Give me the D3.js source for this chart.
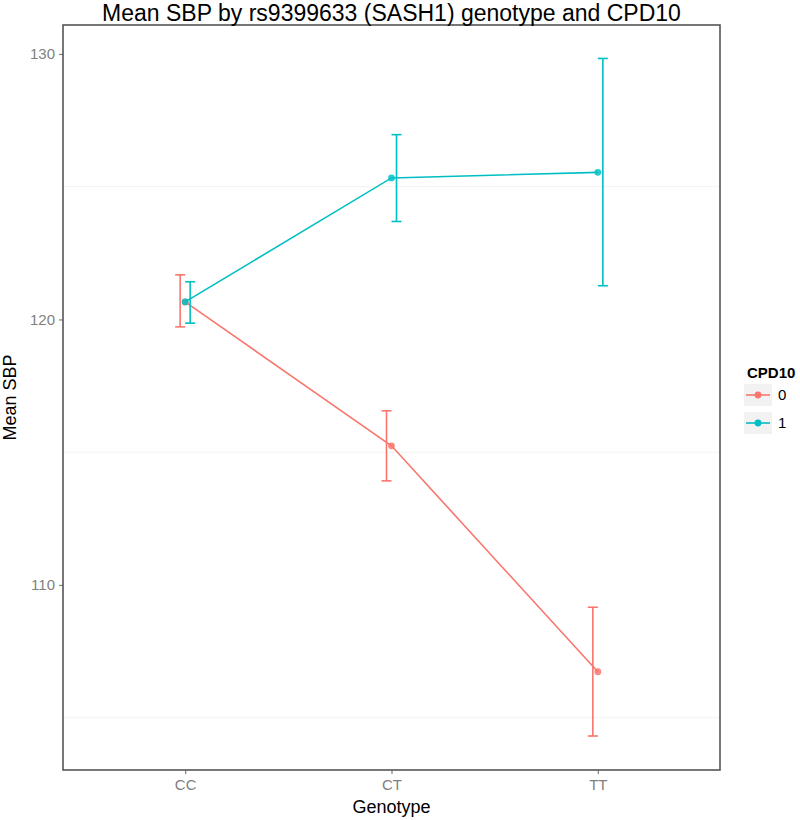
<!DOCTYPE html>
<html>
<head>
<meta charset="utf-8">
<script src="https://cdn.jsdelivr.net/npm/d3@7"></script>
<style>
  body { margin: 0; background: #fff; }
  text { font-family: "Liberation Sans", Arial, sans-serif; }
</style>
</head>
<body>
<div id="chart"></div>
<script>
// data
const genotypes = ["CC", "CT", "TT"];
const groups = ["0", "1"];
const colors = ["#F8766D", "#00BFC4"];
const meanSbp0 = [120.66, 115.24, 106.73];
const lower0 = [119.72, 113.92, 104.31];
const upper0 = [121.68, 116.56, 109.16];
const meanSbp1 = [120.66, 125.33, 125.54];
const lower1 = [119.86, 123.69, 121.27];
const upper1 = [121.42, 126.96, 129.83];
const yTicks = [110, 120, 130];
const yMinor = [105, 115, 125];

const series = [
  { key: groups[0], color: colors[0], mean: meanSbp0, lo: lower0, hi: upper0, dodge: -1 },
  { key: groups[1], color: colors[1], mean: meanSbp1, lo: lower1, hi: upper1, dodge: 1 }
];

const width = 800, height = 820;
const margin = { top: 25, right: 80, bottom: 50, left: 63 };
const plotW = width - margin.left - margin.right;
const plotH = height - margin.top - margin.bottom;

const svg = d3.select("#chart").append("svg")
  .attr("width", width)
  .attr("height", height);

const g = svg.append("g")
  .attr("transform", `translate(${margin.left}, ${margin.top})`);

// x: category index with ggplot style expansion
const xScale = d3.scaleLinear()
  .domain([1 - 0.592, 3 + 0.592])
  .range([0, plotW]);
const x = name => xScale(genotypes.indexOf(name) + 1);

const yScale = d3.scaleLinear()
  .domain([103.03, 131.09])
  .range([plotH, 0]);

// minor grid lines (majors are white in the original)
g.selectAll(".minor")
  .data(yMinor)
  .join("line")
  .attr("x1", 0).attr("x2", plotW)
  .attr("y1", d => yScale(d)).attr("y2", d => yScale(d))
  .attr("stroke", "#f2f2f2")
  .attr("stroke-width", 1);

const dodgePx = 5;
const capHalf = 5;

series.forEach(s => {
  const pts = genotypes.map((gt, i) => ({ gt, mean: s.mean[i], lo: s.lo[i], hi: s.hi[i] }));

  // error bars
  const eb = g.append("g").attr("stroke", s.color).attr("stroke-width", 1.6);
  pts.forEach(p => {
    const cx = x(p.gt) + s.dodge * dodgePx;
    eb.append("line").attr("x1", cx).attr("x2", cx)
      .attr("y1", yScale(p.lo)).attr("y2", yScale(p.hi));
    eb.append("line").attr("x1", cx - capHalf).attr("x2", cx + capHalf)
      .attr("y1", yScale(p.lo)).attr("y2", yScale(p.lo));
    eb.append("line").attr("x1", cx - capHalf).attr("x2", cx + capHalf)
      .attr("y1", yScale(p.hi)).attr("y2", yScale(p.hi));
  });

  // line
  g.append("path")
    .datum(pts)
    .attr("fill", "none")
    .attr("stroke", s.color)
    .attr("stroke-width", 1.6)
    .attr("d", d3.line().x(d => x(d.gt)).y(d => yScale(d.mean)));

  // points
  g.selectAll(null)
    .data(pts)
    .join("circle")
    .attr("cx", d => x(d.gt))
    .attr("cy", d => yScale(d.mean))
    .attr("r", 3.4)
    .attr("fill", s.color)
    .attr("opacity", 0.85);
});

// axes
const xAxis = g.append("g")
  .attr("transform", `translate(0, ${plotH})`)
  .call(d3.axisBottom(xScale).tickValues([1, 2, 3]).tickFormat(d => genotypes[d - 1]).tickSize(4).tickPadding(5));
const yAxis = g.append("g")
  .call(d3.axisLeft(yScale).tickValues(yTicks).tickSize(4).tickPadding(4));

[xAxis, yAxis].forEach(a => {
  a.select(".domain").remove();
  a.selectAll(".tick line").attr("stroke", "#7f7f7f").attr("stroke-width", 1.2);
  a.selectAll(".tick text").attr("fill", "#7f7f7f").style("font-size", "15px");
});

// panel border
g.append("rect")
  .attr("width", plotW).attr("height", plotH)
  .attr("fill", "none")
  .attr("stroke", "#555")
  .attr("stroke-width", 1.6);

// titles
svg.append("text")
  .attr("x", margin.left + plotW / 2)
  .attr("y", 21)
  .attr("text-anchor", "middle")
  .style("font-size", "23px")
  .text("Mean SBP by rs9399633 (SASH1) genotype and CPD10");

svg.append("text")
  .attr("x", margin.left + plotW / 2)
  .attr("y", 813)
  .attr("text-anchor", "middle")
  .style("font-size", "18px")
  .text("Genotype");

svg.append("text")
  .attr("transform", `translate(16, ${margin.top + plotH / 2}) rotate(-90)`)
  .attr("text-anchor", "middle")
  .style("font-size", "18px")
  .text("Mean SBP");

// legend
const legend = svg.append("g").attr("transform", "translate(744, 378)");
legend.append("text")
  .attr("x", 3).attr("y", 0)
  .style("font-size", "15px")
  .style("font-weight", "bold")
  .text("CPD10");

series.forEach((s, i) => {
  const row = legend.append("g").attr("transform", `translate(0, ${6 + i * 28})`);
  row.append("rect")
    .attr("width", 28).attr("height", 22)
    .attr("fill", "#f2f2f2");
  row.append("line")
    .attr("x1", 2).attr("x2", 26)
    .attr("y1", 11).attr("y2", 11)
    .attr("stroke", s.color).attr("stroke-width", 1.6);
  row.append("circle")
    .attr("cx", 14).attr("cy", 11).attr("r", 3.4)
    .attr("fill", s.color);
  row.append("text")
    .attr("x", 34).attr("y", 16)
    .style("font-size", "15px")
    .text(s.key);
});
</script>
</body>
</html>
